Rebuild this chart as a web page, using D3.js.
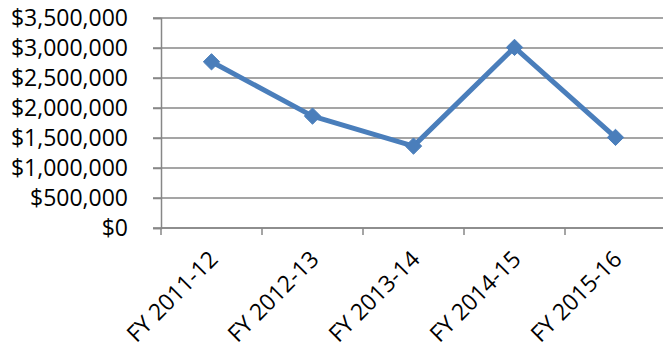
<!DOCTYPE html>
<html>
<head>
<meta charset="utf-8">
<script src="https://cdn.jsdelivr.net/npm/d3@7"></script>
<style>
  html, body { margin: 0; padding: 0; background: #fff; }
  svg { display: block; }
  text { font-family: "Open Sans", sans-serif; fill: #000; }
</style>
</head>
<body>
<svg id="chart" width="663" height="354"></svg>
<script>
// Fiscal years and yearly totals
const categories = ["FY 2011-12", "FY 2012-13", "FY 2013-14", "FY 2014-15", "FY 2015-16"];
const values = [2770000, 1865000, 1365000, 3010000, 1510000];
const yTicks = [0, 500000, 1000000, 1500000, 2000000, 2500000, 3000000, 3500000];

const svg = d3.select("#chart");
const margin = { left: 161, top: 18, right: -3, bottom: 126 };
const W = 663, H = 354;

const x = d3.scaleBand()
  .domain(categories)
  .range([margin.left, W - margin.right])
  .padding(0);

const y = d3.scaleLinear()
  .domain([0, 3500000])
  .range([H - margin.bottom, margin.top]);

const fmt = v => "$" + d3.format(",")(v);
const gridColor = "#878787";

// horizontal gridlines
svg.append("g")
  .selectAll("line")
  .data(yTicks)
  .join("line")
  .attr("x1", margin.left - 8)
  .attr("x2", W)
  .attr("y1", d => y(d))
  .attr("y2", d => y(d))
  .attr("stroke", gridColor)
  .attr("stroke-width", 1.5);

// y axis
const yAxis = svg.append("g")
  .attr("transform", `translate(${margin.left},0)`)
  .call(d3.axisLeft(y).tickValues(yTicks).tickFormat(fmt).tickSize(8).tickPadding(25));
yAxis.select(".domain").attr("stroke", gridColor).attr("stroke-width", 1.5);
yAxis.selectAll(".tick line").attr("stroke", gridColor).attr("stroke-width", 1.5);
yAxis.selectAll("text")
  .style("font-family", "'Open Sans', sans-serif")
  .style("font-size", "23px")
  .attr("fill", "#000");

// x axis with category boundary ticks
const xAxisY = y(0);
svg.append("line")
  .attr("x1", margin.left).attr("x2", W)
  .attr("y1", xAxisY).attr("y2", xAxisY)
  .attr("stroke", gridColor).attr("stroke-width", 1.5);

const bounds = categories.map(c => x(c)).concat([x(categories[categories.length - 1]) + x.bandwidth()]);
svg.append("g")
  .selectAll("line")
  .data(bounds)
  .join("line")
  .attr("x1", d => d).attr("x2", d => d)
  .attr("y1", xAxisY).attr("y2", xAxisY + 7)
  .attr("stroke", gridColor).attr("stroke-width", 1.5);

// rotated category labels
svg.append("g")
  .selectAll("text")
  .data(categories)
  .join("text")
  .attr("transform", d => `translate(${x(d) + x.bandwidth() / 2 + 2},${xAxisY + 27}) rotate(-45)`)
  .attr("text-anchor", "end")
  .attr("dy", "0.35em")
  .style("font-size", "23px")
  .text(d => d);

// series line
const cx = d => x(d) + x.bandwidth() / 2;
const line = d3.line()
  .x((d, i) => cx(categories[i]))
  .y(d => y(d));

svg.append("path")
  .datum(values)
  .attr("d", line)
  .attr("fill", "none")
  .attr("stroke", "#4A7EBB")
  .attr("stroke-width", 5)
  .attr("stroke-linejoin", "round");

// diamond markers
svg.append("g")
  .selectAll("path")
  .data(values)
  .join("path")
  .attr("transform", (d, i) => `translate(${cx(categories[i])},${y(d)})`)
  .attr("d", d3.symbol().type(d3.symbolDiamond2).size(170))
  .attr("fill", "#4A7EBB")
  .attr("stroke", "#4A7EBB")
  .attr("stroke-width", 1);
</script>
</body>
</html>
